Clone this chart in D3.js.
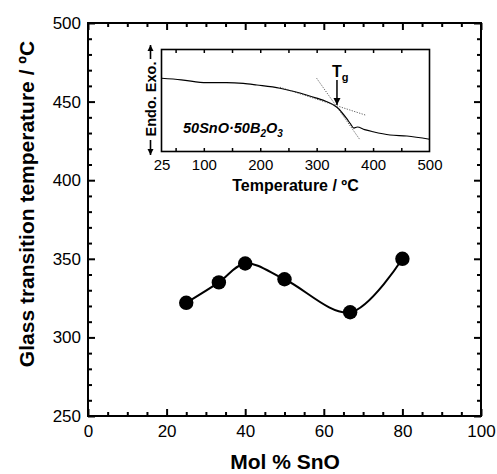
<!DOCTYPE html>
<html>
<head>
<meta charset="utf-8">
<script src="https://cdn.jsdelivr.net/npm/d3@7"></script>
<style>
  body { margin: 0; background: #fff; }
  svg { display: block; font-family: "Liberation Sans", Arial, sans-serif; }
  .narrow { font-family: "Liberation Sans Narrow", "Arial Narrow", "Liberation Sans", sans-serif; }
  .axis path { display: none; }
  .axis line { stroke: #000; }
</style>
</head>
<body>
<div id="chart-area"></div>
<script>
// main data: Tg vs composition
const molSnO = [25, 33.3, 40, 50, 66.7, 80]
const tgValues = [322, 335, 347, 337, 316, 350]
const xTicks = [0, 20, 40, 60, 80, 100]
const yTicks = [250, 300, 350, 400, 450, 500]

// inset DSC trace (arbitrary heat flow units)
const dscTemp = [25, 60, 105, 140, 170, 194, 235, 260, 282, 300, 318, 330, 338, 345, 353, 360, 366, 372, 385, 400, 430, 460, 500]
const dscSignal = [71.8, 70.3, 67.5, 67.6, 66.8, 65.2, 62, 58.8, 55.4, 52.3, 48.8, 45.5, 42.4, 38, 32.5, 27, 23, 24, 21.5, 19.4, 16.2, 15.2, 12]
const insetTicks = [25, 100, 200, 300, 400, 500]
const tangent1T = [235, 386], tangent1S = [63, 35.8]
const tangent2T = [300, 377], tangent2S = [71.8, 11.3]
const tgMark = 336

const WIDTH = 497, HEIGHT = 474

const svg = d3.select("#chart-area").append("svg")
  .attr("width", WIDTH)
  .attr("height", HEIGHT)

// arrow heads
const defs = svg.append("defs")
defs.append("marker")
  .attr("id", "head")
  .attr("viewBox", "0 0 10 10")
  .attr("refX", 10).attr("refY", 5)
  .attr("markerWidth", 5).attr("markerHeight", 5)
  .attr("markerUnits", "strokeWidth")
  .attr("orient", "auto")
  .append("path").attr("d", "M0,0L10,5L0,10Z").attr("fill", "#000")
defs.append("marker")
  .attr("id", "headSmall")
  .attr("viewBox", "0 0 10 10")
  .attr("refX", 10).attr("refY", 5)
  .attr("markerWidth", 4).attr("markerHeight", 4)
  .attr("markerUnits", "strokeWidth")
  .attr("orient", "auto")
  .append("path").attr("d", "M0,0L10,5L0,10Z").attr("fill", "#000")

// SCALES
const x = d3.scaleLinear().domain([0, 100]).range([88, 481])
const y = d3.scaleLinear().domain([250, 500]).range([416, 23])

// AXES (ticks point inward)
function minors(step, lo, hi, majors) {
  return d3.range(lo, hi + 0.001, step).filter(v => !majors.includes(v))
}
const xMinor = minors(5, 0, 100, xTicks)
const yMinor = minors(10, 250, 500, yTicks)

svg.append("g").attr("class", "axis narrow")
  .attr("transform", "translate(0,416)")
  .call(d3.axisBottom(x).tickValues(xTicks).tickSize(-7).tickPadding(6))
  .call(g => g.selectAll("text").attr("font-size", "17px").attr("fill", "#000").attr("dy", "0.9em"))
svg.append("g").attr("class", "axis")
  .attr("transform", "translate(0,416)")
  .call(d3.axisBottom(x).tickValues(xMinor).tickSize(-4).tickFormat(""))
svg.append("g").attr("class", "axis")
  .attr("transform", "translate(0,23)")
  .call(d3.axisTop(x).tickValues(xTicks).tickSize(-7).tickFormat(""))
svg.append("g").attr("class", "axis")
  .attr("transform", "translate(0,23)")
  .call(d3.axisTop(x).tickValues(xMinor).tickSize(-4).tickFormat(""))

svg.append("g").attr("class", "axis narrow")
  .attr("transform", "translate(88,0)")
  .call(d3.axisLeft(y).tickValues(yTicks).tickSize(-7).tickPadding(7))
  .call(g => g.selectAll("text").attr("font-size", "17px").attr("fill", "#000"))
svg.append("g").attr("class", "axis")
  .attr("transform", "translate(88,0)")
  .call(d3.axisLeft(y).tickValues(yMinor).tickSize(-4).tickFormat(""))
svg.append("g").attr("class", "axis")
  .attr("transform", "translate(481,0)")
  .call(d3.axisRight(y).tickValues(yTicks).tickSize(-7).tickFormat(""))
svg.append("g").attr("class", "axis")
  .attr("transform", "translate(481,0)")
  .call(d3.axisRight(y).tickValues(yMinor).tickSize(-4).tickFormat(""))
svg.selectAll(".axis line").attr("stroke-width", 2)

svg.append("rect")
  .attr("x", 88).attr("y", 23)
  .attr("width", 393).attr("height", 393)
  .attr("fill", "none").attr("stroke", "#000").attr("stroke-width", 2)

// LABELS
svg.append("text")
  .attr("x", 285).attr("y", 469)
  .attr("font-size", "21px").attr("font-weight", "bold")
  .attr("text-anchor", "middle")
  .text("Mol % SnO")

svg.append("text")
  .attr("transform", "translate(34,204) rotate(-90)")
  .attr("font-size", "21px").attr("font-weight", "bold")
  .attr("text-anchor", "middle")
  .text("Glass transition temperature / ºC")

// MAIN SERIES
const mainData = molSnO.map((m, i) => ({ m, tg: tgValues[i] }))
svg.append("path")
  .datum(mainData)
  .attr("fill", "none").attr("stroke", "#000").attr("stroke-width", 2)
  .attr("d", d3.line().x(d => x(d.m)).y(d => y(d.tg)).curve(d3.curveCatmullRom.alpha(0.5)))
svg.selectAll("circle.pt")
  .data(mainData)
  .enter().append("circle")
  .attr("class", "pt")
  .attr("cx", d => x(d.m)).attr("cy", d => y(d.tg))
  .attr("r", 7.2).attr("fill", "#000")

// INSET
const ix = d3.scaleLinear().domain([25, 500]).range([161.5, 429.5])
const iy = d3.scaleLinear().domain([0, 100]).range([151.5, 49.5])
const inset = svg.append("g")

const insetMinor = d3.range(50, 500, 50)
inset.append("g").attr("class", "iaxis")
  .attr("transform", "translate(0,151.5)")
  .call(d3.axisBottom(ix).tickValues(insetMinor).tickSize(-3.5).tickFormat(""))
inset.append("g").attr("class", "iaxis")
  .attr("transform", "translate(0,49.5)")
  .call(d3.axisTop(ix).tickValues(insetMinor).tickSize(-3.5).tickFormat(""))
inset.append("g").attr("class", "iaxis narrow")
  .attr("transform", "translate(0,151.5)")
  .call(d3.axisBottom(ix).tickValues(insetTicks).tickSize(0).tickPadding(6))
  .call(g => g.selectAll("text").attr("font-size", "15px").attr("fill", "#000").attr("dy", "0.85em"))
inset.selectAll(".iaxis path").attr("display", "none")
inset.selectAll(".iaxis line").attr("stroke", "#000").attr("stroke-width", 1.5)

inset.append("rect")
  .attr("x", 161.5).attr("y", 49.5)
  .attr("width", 268).attr("height", 102)
  .attr("fill", "none").attr("stroke", "#000").attr("stroke-width", 1.6)

const dsc = dscTemp.map((t, i) => ({ t, s: dscSignal[i] }))
const iline = d3.line().x(d => ix(d.t)).y(d => iy(d.s))
inset.append("path")
  .datum(dsc)
  .attr("fill", "none").attr("stroke", "#000").attr("stroke-width", 1.2)
  .attr("d", iline.curve(d3.curveMonotoneX))

const tangents = [
  tangent1T.map((t, i) => ({ t, s: tangent1S[i] })),
  tangent2T.map((t, i) => ({ t, s: tangent2S[i] }))
]
inset.selectAll("path.tan")
  .data(tangents)
  .enter().append("path")
  .attr("class", "tan")
  .attr("fill", "none").attr("stroke", "#333").attr("stroke-width", 0.8)
  .attr("stroke-dasharray", "1.2,1.4")
  .attr("d", d3.line().x(d => ix(d.t)).y(d => iy(d.s)))

// Tg arrow
inset.append("line")
  .attr("x1", ix(tgMark)).attr("x2", ix(tgMark))
  .attr("y1", 80).attr("y2", 105)
  .attr("stroke", "#000").attr("stroke-width", 1.5)
  .attr("marker-end", "url(#head)")
const tgLabel = inset.append("text")
  .attr("x", ix(tgMark) - 5).attr("y", 77)
  .attr("font-size", "16px").attr("font-weight", "bold")
tgLabel.append("tspan").text("T")
tgLabel.append("tspan").attr("dy", 4).attr("font-size", "11px").text("g")

// sample label
const sample = inset.append("text")
  .attr("x", 183).attr("y", 133)
  .attr("font-size", "14.5px").attr("font-weight", "bold").attr("font-style", "italic")
sample.append("tspan").text("50SnO·50B")
sample.append("tspan").attr("dy", 3.5).attr("font-size", "10px").text("2")
sample.append("tspan").attr("dy", -3.5).text("O")
sample.append("tspan").attr("dy", 3.5).attr("font-size", "10px").text("3")

// inset axis titles
inset.append("text")
  .attr("x", 295.5).attr("y", 191)
  .attr("font-size", "16px").attr("font-weight", "bold")
  .attr("text-anchor", "middle")
  .text("Temperature / ºC")

inset.append("text")
  .attr("transform", "translate(155.5,99) rotate(-90)")
  .attr("font-size", "14.5px").attr("font-weight", "bold")
  .attr("text-anchor", "middle")
  .text("Endo. Exo.")
inset.append("line")
  .attr("x1", 150.5).attr("x2", 150.5).attr("y1", 59).attr("y2", 45)
  .attr("stroke", "#000").attr("stroke-width", 1.6)
  .attr("marker-end", "url(#headSmall)")
inset.append("line")
  .attr("x1", 150.5).attr("x2", 150.5).attr("y1", 140).attr("y2", 155)
  .attr("stroke", "#000").attr("stroke-width", 1.6)
  .attr("marker-end", "url(#headSmall)")
</script>
</body>
</html>
